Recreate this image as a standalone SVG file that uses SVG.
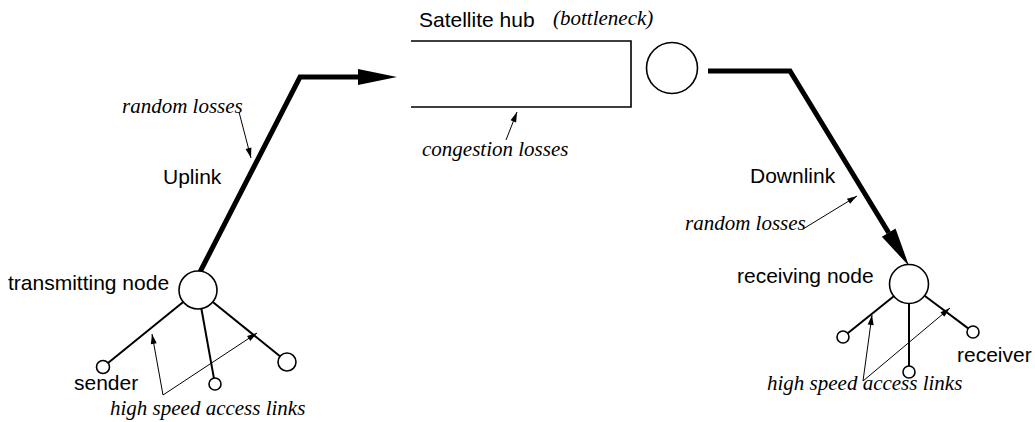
<svg xmlns="http://www.w3.org/2000/svg" width="1035" height="422" viewBox="0 0 1035 422">
  <style>
    .sans { font-family: "Liberation Sans", Arial, sans-serif; font-size: 21px; fill: #000; }
    .note { font-family: "Liberation Serif", "Times New Roman", serif; font-style: italic; font-size: 21px; fill: #000; }
    .trunk { fill: none; stroke: #000; stroke-width: 5; stroke-linejoin: miter; }
    .access { fill: none; stroke: #000; stroke-width: 2; }
    .pointer { fill: none; stroke: #000; stroke-width: 1; }
    .node { fill: #fff; stroke: #000; stroke-width: 1.6; }
    .host { fill: #fff; stroke: #000; stroke-width: 1.6; }
    .queue { fill: none; stroke: #000; stroke-width: 1.6; }
  </style>
  <defs>
    <!-- big head for the satellite links, drawn forward from the line end -->
    <marker id="bigHead" markerUnits="userSpaceOnUse" markerWidth="40" markerHeight="16" refX="0" refY="8" orient="auto" overflow="visible">
      <path d="M0,0 L39,8 L0,16 Z" fill="#000"/>
    </marker>
    <!-- small head for annotation pointers, tip on the line end -->
    <marker id="smallHead" markerUnits="userSpaceOnUse" markerWidth="10" markerHeight="6" refX="10" refY="3" orient="auto" overflow="visible">
      <path d="M0,0 L10,3 L0,6 Z" fill="#000"/>
    </marker>
  </defs>

  <rect width="1035" height="422" fill="#fff"/>

  <g id="connectors">
    <!-- uplink and downlink -->
    <polyline class="trunk" points="200,272 300,77 358,77" marker-end="url(#bigHead)"/>
    <polyline class="trunk" points="708,71 790,71 888.7,232.7" marker-end="url(#bigHead)"/>

    <!-- access links, transmitting side -->
    <line class="access" x1="183.2" y1="302" x2="108" y2="363"/>
    <line class="access" x1="201.4" y1="308.7" x2="213.9" y2="378.1"/>
    <line class="access" x1="212.8" y1="302" x2="280" y2="356.3"/>

    <!-- access links, receiving side -->
    <line class="access" x1="893.8" y1="296.2" x2="847.7" y2="333.2"/>
    <line class="access" x1="909" y1="303.5" x2="909" y2="366"/>
    <line class="access" x1="924.6" y1="295.7" x2="968.2" y2="328.4"/>

    <!-- annotation pointers -->
    <line class="pointer" x1="239" y1="112" x2="251" y2="158" marker-end="url(#smallHead)"/>
    <line class="pointer" x1="506" y1="140" x2="517" y2="112" marker-end="url(#smallHead)"/>
    <line class="pointer" x1="803" y1="229" x2="857" y2="196" marker-end="url(#smallHead)"/>
    <line class="pointer" x1="163" y1="395" x2="152" y2="334" marker-end="url(#smallHead)"/>
    <line class="pointer" x1="163" y1="395" x2="257" y2="333" marker-end="url(#smallHead)"/>
    <line class="pointer" x1="863" y1="381" x2="872" y2="315" marker-end="url(#smallHead)"/>
    <line class="pointer" x1="863" y1="381" x2="950" y2="308" marker-end="url(#smallHead)"/>
  </g>

  <g id="satellite-hub">
    <path class="queue" d="M411,41 H631 V107 H411"/>
    <circle class="node" cx="672" cy="68" r="25.5"/>
    <text class="sans" x="419" y="27">Satellite hub</text>
    <text class="note" x="553" y="25">(bottleneck)</text>
    <text class="note" x="422" y="156">congestion losses</text>
  </g>

  <g id="uplink-label">
    <text class="note" x="122" y="113">random losses</text>
    <text class="sans" x="163" y="184">Uplink</text>
  </g>

  <g id="downlink-label">
    <text class="sans" x="750" y="183">Downlink</text>
    <text class="note" x="685" y="230">random losses</text>
  </g>

  <g id="transmitting-node">
    <circle class="node" cx="198" cy="290" r="19"/>
    <text class="sans" x="8" y="290">transmitting node</text>
  </g>

  <g id="sender">
    <circle class="host" cx="103" cy="367" r="6.5"/>
    <text class="sans" x="74" y="390">sender</text>
  </g>
  <g id="tx-host-2">
    <circle class="host" cx="215" cy="384" r="6"/>
  </g>
  <g id="tx-host-3">
    <circle class="host" cx="287" cy="362" r="9"/>
  </g>
  <g id="tx-access-label">
    <text class="note" x="110" y="415">high speed access links</text>
  </g>

  <g id="receiving-node">
    <circle class="node" cx="909" cy="284" r="19.5"/>
    <text class="sans" x="737" y="283">receiving node</text>
  </g>
  <g id="rx-host-1">
    <circle class="host" cx="843" cy="337" r="6"/>
  </g>
  <g id="rx-host-2">
    <circle class="host" cx="909" cy="372" r="6"/>
  </g>
  <g id="receiver">
    <circle class="host" cx="973" cy="332" r="6"/>
    <text class="sans" x="957" y="362">receiver</text>
  </g>
  <g id="rx-access-label">
    <text class="note" x="767" y="390">high speed access links</text>
  </g>
</svg>
